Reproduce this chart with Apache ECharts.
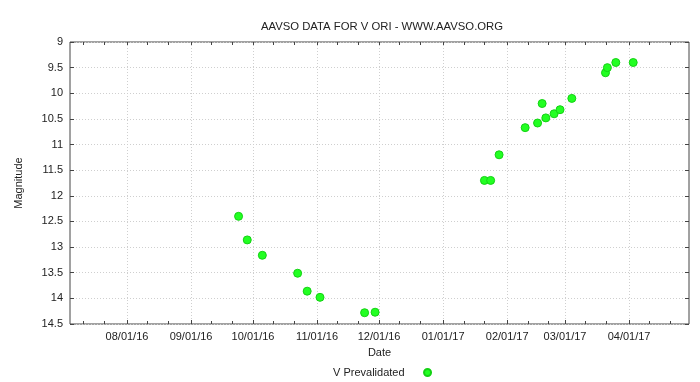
<!DOCTYPE html>
<html><head><meta charset="utf-8">
<script src="https://cdn.jsdelivr.net/npm/echarts@6/dist/echarts.min.js"></script>
<style>html,body{margin:0;padding:0;background:#fff}#c{width:700px;height:382px}</style>
</head><body><div id="c"></div>
<script>
// ---- data ----
const obsDates = [
  '2016-09-24T00:00Z','2016-09-28T05:00Z','2016-10-05T12:00Z','2016-10-22T14:00Z',
  '2016-10-27T05:00Z','2016-11-02T10:00Z','2016-11-24T00:00Z','2016-11-29T02:00Z',
  '2017-01-21T00:00Z','2017-01-24T00:00Z','2017-01-28T02:00Z','2017-02-09T17:00Z',
  '2017-02-15T17:00Z','2017-02-17T22:00Z','2017-02-19T17:00Z','2017-02-23T17:00Z',
  '2017-02-26T14:00Z','2017-03-04T07:00Z','2017-03-20T14:00Z','2017-03-21T12:00Z',
  '2017-03-25T14:00Z','2017-04-03T00:00Z'
];
const magnitudes = [
  12.40, 12.86, 13.16, 13.51,
  13.86, 13.98, 14.28, 14.27,
  11.70, 11.70, 11.20, 10.67,
  10.58, 10.20, 10.48, 10.40,
  10.32, 10.10, 9.60, 9.50,
  9.40, 9.40
];
const xRange = ['2016-07-04T10:00Z', '2017-04-30T00:00Z'];
const monthTicks = ['2016-08-01','2016-09-01','2016-10-01','2016-11-01','2016-12-01',
  '2017-01-01','2017-02-01','2017-03-01','2017-04-01'];
const minorTicks = ['2016-07-11','2016-07-21','2016-08-11','2016-08-21','2016-09-11','2016-09-21',
  '2016-10-11','2016-10-21','2016-11-11','2016-11-21','2016-12-11','2016-12-21',
  '2017-01-11','2017-01-21','2017-02-11','2017-02-21','2017-03-11','2017-03-21',
  '2017-04-11','2017-04-21'];
const yRange = [9, 14.5];
const yStep = 0.5;
const titleText = 'AAVSO DATA FOR V ORI - WWW.AAVSO.ORG';
const seriesName = 'V Prevalidated';

// ---- build ----
const t = s => Date.parse(s.length === 10 ? s + 'T00:00:00Z' : s);
const pad = n => (n < 10 ? '0' : '') + n;
const fmt = v => { const d = new Date(v); return pad(d.getUTCMonth()+1) + '/' + pad(d.getUTCDate()) + '/' + pad(d.getUTCFullYear() % 100); };
const xMin = t(xRange[0]), xMax = t(xRange[1]);
const majors = monthTicks.map(t);
const minors = minorTicks.map(t);
const data = obsDates.map((d, i) => [t(d), magnitudes[i]]);

const FONT = 'Liberation Sans';
const frame = '#444';
const gridLine = { show: true, lineStyle: { color: '#cfcfcf', type: [1, 2], width: 1 } };

const chart = echarts.init(document.getElementById('c'), null, { renderer: 'canvas' });
chart.setOption({
  animation: false,
  backgroundColor: '#fff',
  title: {
    text: titleText, left: 377, top: 16, textAlign: 'center',
    textStyle: { fontFamily: FONT, fontSize: 11.3, fontWeight: 'normal', color: '#222' }
  },
  grid: { left: 70, top: 42, width: 619, height: 282, show: true, borderColor: frame, borderWidth: 1, backgroundColor: 'transparent' },
  legend: {
    data: [seriesName], left: 328, top: 362, align: 'right',
    itemWidth: 36, itemHeight: 7, icon: 'circle',
    textStyle: { fontFamily: FONT, fontSize: 11, color: '#222' }
  },
  xAxis: [
    { type: 'value', position: 'bottom', min: xMin, max: xMax,
      name: 'Date', nameLocation: 'middle', nameGap: 23,
      nameTextStyle: { fontFamily: FONT, fontSize: 11, color: '#222' },
      axisLine: { show: false },
      axisTick: { show: true, inside: true, length: 4, customValues: majors, lineStyle: { color: frame } },
      axisLabel: { customValues: majors, formatter: fmt, margin: 7, fontFamily: FONT, fontSize: 11, color: '#222' },
      splitLine: gridLine },
    { type: 'value', position: 'bottom', min: xMin, max: xMax,
      axisLine: { show: false },
      axisTick: { show: true, inside: true, length: 3, customValues: minors, lineStyle: { color: frame } },
      axisLabel: { show: false }, splitLine: { show: false } },
    { type: 'value', position: 'top', min: xMin, max: xMax,
      axisLine: { show: false },
      axisTick: { show: true, inside: true, length: 3, customValues: majors.concat(minors), lineStyle: { color: frame } },
      axisLabel: { show: false }, splitLine: { show: false } }
  ],
  yAxis: [
    { type: 'value', position: 'left', inverse: true, min: yRange[0], max: yRange[1], interval: yStep,
      name: 'Magnitude', nameLocation: 'middle', nameGap: 46, nameRotate: 90,
      nameTextStyle: { fontFamily: FONT, fontSize: 11, color: '#222' },
      axisLine: { show: false },
      axisTick: { show: true, inside: true, length: 4, lineStyle: { color: frame } },
      axisLabel: { margin: 7, fontFamily: FONT, fontSize: 11, color: '#222' },
      splitLine: gridLine },
    { type: 'value', position: 'right', inverse: true, min: yRange[0], max: yRange[1], interval: yStep,
      axisLine: { show: false },
      axisTick: { show: true, inside: true, length: 4, lineStyle: { color: frame } },
      axisLabel: { show: false }, splitLine: { show: false } }
  ],
  series: [{
    name: seriesName, type: 'scatter', xAxisIndex: 0, yAxisIndex: 0,
    symbol: 'circle', symbolSize: 8, data: data,
    itemStyle: { color: '#22ff22', borderColor: '#14d214', borderWidth: 1, opacity: 1 }
  }]
});
</script></body></html>
